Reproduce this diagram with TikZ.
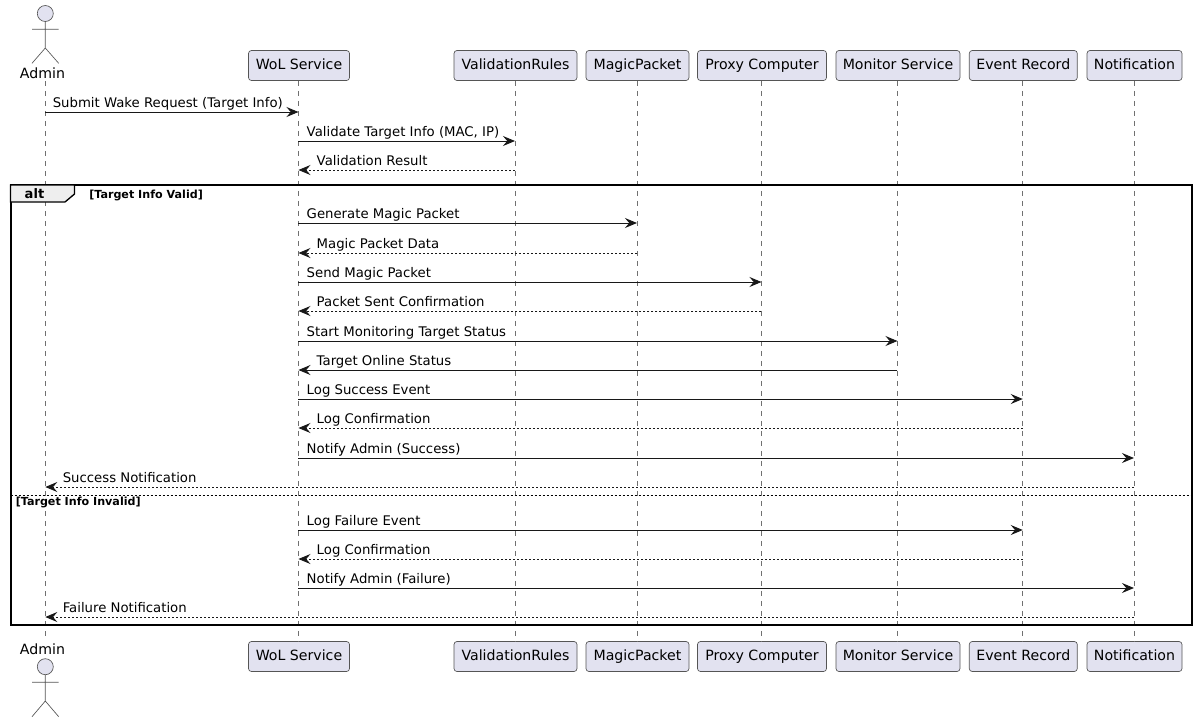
\documentclass[tikz,border=0pt]{standalone}
\usepackage{fontspec}
\setmainfont{DejaVu Sans}
\usetikzlibrary{arrows.meta}
\definecolor{partfill}{HTML}{E2E2F0}
\definecolor{partline}{HTML}{555555}
\definecolor{lifeline}{HTML}{707070}
\definecolor{msgline}{HTML}{181818}
\definecolor{tabfill}{HTML}{EEEEEE}
\tikzset{
  x=0.75pt,y=-0.75pt,
  part/.style={draw=partline,fill=partfill,line width=0.5pt,rounded corners=2.2pt,minimum height=22.5pt,inner sep=0pt,text height=8pt,text depth=2pt,font=\fontsize{10.6pt}{12pt}\selectfont,text=black},
  actlabel/.style={inner sep=0pt,font=\fontsize{10.6pt}{12pt}\selectfont},
  life/.style={draw=lifeline,line width=0.5pt,dash pattern=on 3.75pt off 3.75pt},
  figure/.style={draw=partline,line width=0.5pt},
  head/.style={figure,fill=partfill,circle,minimum size=12pt,inner sep=0pt},
  msg/.style={draw=msgline,line width=0.75pt,-{Stealth[length=9pt,width=7.5pt,inset=3.2pt]}},
  ret/.style={msg,line width=0.6pt,dash pattern=on 1.5pt off 1.5pt},
  msglabel/.style={inner sep=0pt,font=\fontsize{9.95pt}{12pt}\selectfont},
  frame/.style={draw=black,line width=1.5pt},
  tab/.style={draw=black,line width=1pt,fill=tabfill},
  guard/.style={inner sep=0pt,font=\fontsize{8.35pt}{10pt}\selectfont\bfseries},
  altlabel/.style={inner sep=0pt,font=\fontsize{9.8pt}{12pt}\selectfont\bfseries},
  divider/.style={draw=black,line width=0.5pt,dash pattern=on 1.5pt off 1.5pt},
}
\newcommand{\fwdmsg}[4]{%
  \draw[msg] (#1L |- 0,#3) -- (#2L |- 0,#3);
  \path (#1L |- 0,#3) ++(8,-5) node[msglabel,anchor=base west] (l#3) {#4};}
\newcommand{\backmsg}[4]{%
  \draw[msg] (#1L |- 0,#3) -- (#2L |- 0,#3);
  \path (#2L |- 0,#3) ++(18,-5) node[msglabel,anchor=base west] (l#3) {#4};}
\newcommand{\retmsg}[4]{%
  \draw[ret] (#1L |- 0,#3) -- (#2L |- 0,#3);
  \path (#2L |- 0,#3) ++(18,-5) node[msglabel,anchor=base west] (l#3) {#4};}
\begin{document}
\begin{tikzpicture}
\useasboundingbox (0,0) rectangle (1197,722);
% participants
\foreach \n/\cx/\w/\t in {wol/299/101/WoL Service,val/515.5/123/ValidationRules,mag/637.5/103/MagicPacket,pro/762/129/Proxy Computer,mon/898/124/Monitor Service,evt/1023.3/108/Event Record,noti/1134.5/95/Notification}{
  \node[part,minimum width=\w*0.75pt] (\n) at (\cx,65.5) {\t};
  \node[part,minimum width=\w*0.75pt] (\n b) at (\cx,656.5) {\t};
}
\foreach \n in {wol,val,mag,pro,mon,evt,noti}{
  \coordinate (\n L) at ([xshift=-0.4pt]\n.south);
  \coordinate (\n E) at ([xshift=-0.4pt]\n b.north);
}
% actor top
\node[actlabel] (adm) at (42.5,73) {Admin};
\node[head] (admhead) at (45.3,13.5) {};
\coordinate (admneck) at (45.3,48);
\coordinate (admarml) at (32,29.3);
\coordinate (admarmr) at (58.7,29.3);
\coordinate (admfootl) at (32,63.3);
\coordinate (admfootr) at (58.7,63.3);
\draw[figure] (admhead.south) -- (admneck) (admarml) -- (admarmr) (admfootl) -- (admneck) -- (admfootr);
% actor bottom
\node[actlabel] (admb) at (42.5,649) {Admin};
\node[head] (admbhead) at (45.3,666.7) {};
\coordinate (admbneck) at (45.3,701);
\coordinate (admbarml) at (32,682.3);
\coordinate (admbarmr) at (58.7,682.3);
\coordinate (admbfootl) at (32,716.7);
\coordinate (admbfootr) at (58.7,716.7);
\draw[figure] (admbhead.south) -- (admbneck) (admbarml) -- (admbarmr) (admbfootl) -- (admbneck) -- (admbfootr);
% lifelines
\coordinate (admL) at (45.3,81);
\coordinate (admE) at (45.3,640);
\draw[life] (admL) -- (admE);
\foreach \n in {wol,val,mag,pro,mon,evt,noti}{
  \draw[life] (\n L) -- (\n E);
}
% alt frame
\draw[frame] (10.5,185) rectangle (1192,625);
\draw[tab] (10.5,185) -- (74.5,185) -- (74.5,194) -- (65,202) -- (10.5,202) -- cycle;
\node[altlabel] (alt) at (34.5,194) {alt};
\node[guard,anchor=base west] (g1) at (89,198.2) {[Target Info Valid]};
\draw[divider] (10.5,495.5) -- (1192,495.5);
\node[guard,anchor=base west] (g2) at (15.5,505.2) {[Target Info Invalid]};
% messages
\draw[msg] (admL |- 0,112) -- (wolL |- 0,112);
\node[msglabel,anchor=base west] (l112) at (52.5,107) {Submit Wake Request (Target Info)};
\fwdmsg{wol}{val}{141}{Validate Target Info (MAC, IP)}
\retmsg{val}{wol}{170}{Validation Result}
\fwdmsg{wol}{mag}{223}{Generate Magic Packet}
\retmsg{mag}{wol}{253}{Magic Packet Data}
\fwdmsg{wol}{pro}{282}{Send Magic Packet}
\retmsg{pro}{wol}{311}{Packet Sent Confirmation}
\fwdmsg{wol}{mon}{341}{Start Monitoring Target Status}
\backmsg{mon}{wol}{370}{Target Online Status}
\fwdmsg{wol}{evt}{399}{Log Success Event}
\retmsg{evt}{wol}{428}{Log Confirmation}
\fwdmsg{wol}{noti}{458}{Notify Admin (Success)}
\draw[ret] (notiL |- 0,487) -- (admL |- 0,487);
\node[msglabel,anchor=base west] (l487) at (62.5,482) {Success Notification};
\fwdmsg{wol}{evt}{530}{Log Failure Event}
\retmsg{evt}{wol}{559}{Log Confirmation}
\fwdmsg{wol}{noti}{588}{Notify Admin (Failure)}
\draw[ret] (notiL |- 0,617) -- (admL |- 0,617);
\node[msglabel,anchor=base west] (l617) at (62.5,612) {Failure Notification};
\end{tikzpicture}
\end{document}
